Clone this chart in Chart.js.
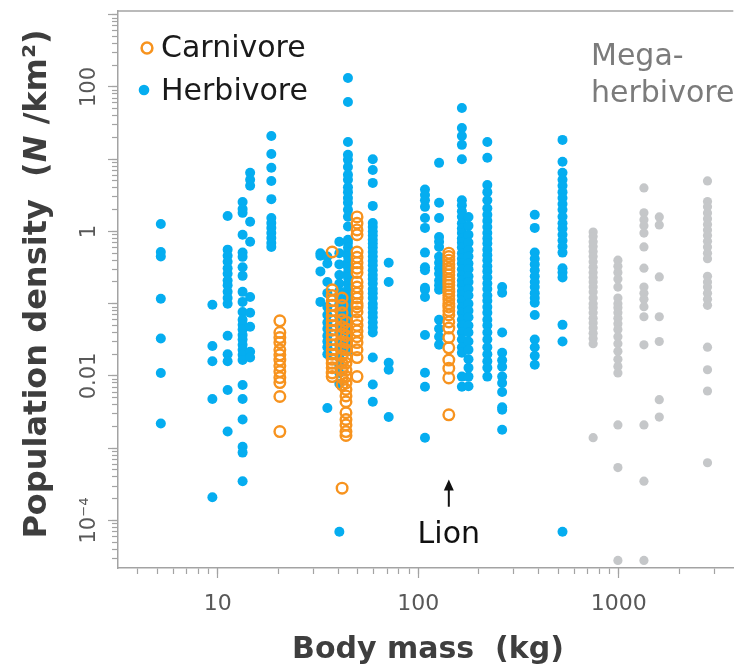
<!DOCTYPE html>
<html>
<head>
<meta charset="utf-8">
<script src="https://cdn.jsdelivr.net/npm/chart.js@4"></script>
<style>
  html, body { margin: 0; padding: 0; background: #fff; }
  canvas { display: block; }
</style>
</head>
<body>
<canvas id="chart" width="741" height="672"></canvas>
<script>
// Body mass (kg) of each species column, and the population densities (N/km2) recorded for it
const carnMass = [20.4, 37.2, 41.7, 43.6, 49.5, 142];
const carnDensity = [
  [0.058, 0.040, 0.034, 0.029, 0.023, 0.0196, 0.0166, 0.0138, 0.0115, 0.0095, 0.0081, 0.0052, 0.0017],
  [0.52, 0.156, 0.13, 0.11, 0.095, 0.08, 0.068, 0.058, 0.05, 0.043, 0.037, 0.032, 0.027, 0.023, 0.02, 0.017, 0.015, 0.013, 0.011, 0.0098],
  [0.12, 0.095, 0.075, 0.06, 0.048, 0.038, 0.03, 0.024, 0.019, 0.015, 0.012, 0.0095, 0.0075, 0.00028],
  [0.056, 0.045, 0.036, 0.029, 0.023, 0.018, 0.015, 0.012, 0.0098, 0.008, 0.0065, 0.0053, 0.0044, 0.0031, 0.0025, 0.0021, 0.0017, 0.0015],
  [1.59, 1.3, 1.05, 0.9, 0.52, 0.44, 0.37, 0.31, 0.27, 0.2, 0.17, 0.14, 0.12, 0.1, 0.09, 0.077, 0.06, 0.05, 0.042, 0.035, 0.029, 0.023, 0.018, 0.0098],
  [0.5, 0.45, 0.4, 0.35, 0.31, 0.28, 0.25, 0.22, 0.2, 0.18, 0.16, 0.145, 0.13, 0.115, 0.1, 0.09, 0.08, 0.07, 0.056, 0.046, 0.034, 0.0245, 0.0166, 0.0128, 0.0094, 0.0029]
];

const herbMass = [5.2, 9.4, 11.2, 13.3, 14.5, 18.5, 32.5, 35.2, 40.4, 44.6, 59.3, 71.2, 108, 127, 165, 178, 221, 262, 381, 524];
const herbDensity = [
  [1.27, 0.52, 0.45, 0.117, 0.033, 0.011, 0.0022],
  [0.097, 0.026, 0.016, 0.0048, 0.00021],
  [1.64, 0.56, 0.46, 0.38, 0.31, 0.26, 0.21, 0.18, 0.146, 0.12, 0.1, 0.036, 0.02, 0.016, 0.0064, 0.0017],
  [2.56, 2.05, 1.81, 0.9, 0.51, 0.445, 0.32, 0.243, 0.146, 0.106, 0.077, 0.06, 0.051, 0.044, 0.037, 0.032, 0.027, 0.023, 0.0196, 0.0166, 0.0075, 0.0048, 0.0025, 0.00105, 0.00087, 0.00035],
  [6.5, 5.2, 4.3, 1.36, 0.72, 0.124, 0.075, 0.048, 0.0216, 0.018],
  [21, 11.8, 7.6, 5.0, 2.8, 1.54, 1.31, 1.12, 0.95, 0.81, 0.69, 0.61],
  [0.5, 0.46, 0.28, 0.106],
  [0.45, 0.36, 0.2, 0.14, 0.09, 0.07, 0.055, 0.045, 0.036, 0.03, 0.025, 0.02, 0.0036],
  [0.72, 0.5, 0.35, 0.25, 0.19, 0.15, 0.12, 0.1, 0.08, 0.065, 0.05, 0.04, 0.03, 0.024, 0.018, 0.014, 0.011, 0.0078, 0.00007],
  [133, 62, 17.3, 11.5, 9.8, 7.8, 6.1, 5.2, 4.1, 3.5, 2.9, 2.5, 2.0, 1.6, 1.17, 0.77, 0.69, 0.6, 0.52, 0.45, 0.38, 0.32, 0.27, 0.23, 0.19, 0.16, 0.13, 0.11, 0.09, 0.075, 0.06, 0.05, 0.04, 0.033, 0.027, 0.022],
  [10, 7.1, 4.7, 2.26, 1.31, 1.15, 1.0, 0.88, 0.77, 0.68, 0.6, 0.52, 0.45, 0.39, 0.34, 0.29, 0.25, 0.22, 0.19, 0.16, 0.14, 0.12, 0.1, 0.088, 0.075, 0.065, 0.055, 0.047, 0.04, 0.018, 0.0076, 0.0044],
  [0.37, 0.2, 0.0152, 0.0122, 0.0027],
  [3.8, 3.2, 2.7, 2.19, 1.54, 1.12, 0.51, 0.32, 0.29, 0.166, 0.156, 0.124, 0.037, 0.0111, 0.0071, 0.0014],
  [8.9, 2.5, 1.54, 0.84, 0.72, 0.61, 0.445, 0.37, 0.31, 0.26, 0.21, 0.18, 0.156, 0.06, 0.045, 0.035, 0.027],
  [51, 27, 21, 15.8, 10, 2.7, 2.3, 1.9, 1.6, 1.3, 1.1, 0.95, 0.8, 0.7, 0.6, 0.5, 0.42, 0.36, 0.3, 0.25, 0.21, 0.18, 0.15, 0.13, 0.11, 0.09, 0.075, 0.06, 0.05, 0.04, 0.032, 0.025, 0.021, 0.0098, 0.0071],
  [1.59, 1.2, 0.9, 0.7, 0.55, 0.45, 0.36, 0.3, 0.24, 0.2, 0.16, 0.13, 0.1, 0.08, 0.065, 0.05, 0.04, 0.03, 0.023, 0.017, 0.013, 0.0098, 0.0072],
  [17.3, 10.5, 4.4, 3.5, 2.7, 2.1, 1.7, 1.4, 1.15, 0.95, 0.8, 0.68, 0.56, 0.47, 0.4, 0.33, 0.28, 0.23, 0.19, 0.16, 0.13, 0.11, 0.09, 0.075, 0.06, 0.05, 0.04, 0.032, 0.025, 0.02, 0.016, 0.013, 0.0098],
  [0.17, 0.142, 0.04, 0.021, 0.0165, 0.0134, 0.0098, 0.008, 0.006, 0.0037, 0.0034, 0.0018],
  [1.7, 1.12, 0.51, 0.42, 0.35, 0.29, 0.24, 0.2, 0.17, 0.14, 0.12, 0.103, 0.07, 0.032, 0.025, 0.019, 0.0143],
  [18.5, 9.2, 6.5, 5.2, 4.3, 3.5, 2.9, 2.4, 2.0, 1.6, 1.3, 1.1, 0.9, 0.75, 0.62, 0.51, 0.31, 0.27, 0.23, 0.051, 0.03, 0.00007]
];

const megaMass = [745, 990, 1335, 1592, 2770];
const megaDensity = [
  [0.98, 0.85, 0.72, 0.62, 0.53, 0.45, 0.38, 0.32, 0.27, 0.23, 0.2, 0.17, 0.145, 0.12, 0.1, 0.088, 0.075, 0.063, 0.054, 0.046, 0.039, 0.033, 0.028, 0.0014],
  [0.4, 0.33, 0.27, 0.22, 0.17, 0.12, 0.1, 0.088, 0.075, 0.063, 0.053, 0.044, 0.035, 0.028, 0.022, 0.017, 0.0135, 0.011, 0.0021, 0.00054, 0.000028],
  [4.0, 1.81, 1.45, 1.2, 0.95, 0.61, 0.31, 0.17, 0.14, 0.115, 0.091, 0.066, 0.027, 0.0021, 0.00035, 0.000028],
  [1.59, 1.23, 0.235, 0.066, 0.03, 0.0047, 0.0027],
  [5.0, 2.6, 2.2, 1.8, 1.5, 1.25, 1.05, 0.88, 0.73, 0.61, 0.5, 0.42, 0.24, 0.2, 0.17, 0.14, 0.115, 0.095, 0.025, 0.0122, 0.0062, 0.00063]
];

// axis ranges and labelled ticks
const xMin = 3.18, xMax = 3725;
const yMin = 2.2e-5, yMax = 1125;
const xLabelValues = [10, 100, 1000];
const xLabelText = ['10', '100', '1000'];
const yLabelValues = [1e-4, 0.01, 1, 100];
const yLabelText = ['10\u207B\u2074', '0.01', '1', '100'];

// lion marker: mass, arrow tip/tail and label baseline densities
const lionMass = 142;
const lionArrow = [3.7e-4, 1.55e-4];
const lionLabelAt = 4.9e-5;

const ORANGE = '#f7931e';
const BLUE = '#05adf0';
const GREY = '#c5c7c9';
const AXIS = '#a3a3a3';
const TICK_TEXT = '#585858';
const FONT = "'DejaVu Sans'";

function columnPoints(masses, densities) {
  const pts = [];
  masses.forEach((m, i) => densities[i].forEach(d => pts.push({ x: m, y: d })));
  return pts;
}

// 1..9 x 10^k ticks inside a range; decades only when majorOnly
function logTicks(lo, hi, majorOnly) {
  const out = [];
  for (let e = -6; e <= 4; e++) {
    for (let m = 1; m <= 9; m++) {
      if (majorOnly && m > 1) break;
      const v = m * Math.pow(10, e);
      if (v >= lo && v <= hi) out.push(v);
    }
  }
  return out;
}

function labelFor(values, texts) {
  return v => {
    const i = values.findIndex(t => Math.abs(Math.log10(v / t)) < 1e-6);
    return i < 0 ? '' : texts[i];
  };
}

function tickAxis(opts) {
  return Object.assign({
    type: 'logarithmic',
    grid: { drawOnChartArea: false, drawTicks: true, tickColor: AXIS, tickWidth: 1.2 },
    border: { display: false }
  }, opts);
}

const decorations = {
  id: 'decorations',
  afterDraw(chart) {
    const ctx = chart.ctx;
    const area = chart.chartArea;
    const xs = chart.scales.x, ys = chart.scales.y;
    ctx.save();

    // top edge of the frame
    ctx.strokeStyle = AXIS;
    ctx.lineWidth = 1.5;
    ctx.beginPath();
    ctx.moveTo(area.left, area.top);
    ctx.lineTo(area.right, area.top);
    ctx.stroke();

    // legend
    ctx.lineWidth = 2.5;
    ctx.strokeStyle = ORANGE;
    ctx.beginPath();
    ctx.arc(area.left + 29, area.top + 37, 5.4, 0, Math.PI * 2);
    ctx.stroke();
    ctx.fillStyle = BLUE;
    ctx.beginPath();
    ctx.arc(area.left + 26, area.top + 79, 5.3, 0, Math.PI * 2);
    ctx.fill();
    ctx.fillStyle = '#1a1a1a';
    ctx.font = '30px ' + FONT;
    ctx.textAlign = 'left';
    ctx.textBaseline = 'alphabetic';
    ctx.fillText('Carnivore', area.left + 43, area.top + 46);
    ctx.fillText('Herbivore', area.left + 43, area.top + 89);

    // mega-herbivore group label
    ctx.fillStyle = '#7b7b7b';
    ctx.fillText('Mega-', 591, area.top + 54);
    ctx.fillText('herbivore', 591, area.top + 91);

    // lion arrow and label
    const lx = xs.getPixelForValue(lionMass);
    const tipY = ys.getPixelForValue(lionArrow[0]);
    const tailY = ys.getPixelForValue(lionArrow[1]);
    ctx.strokeStyle = '#111';
    ctx.fillStyle = '#111';
    ctx.lineWidth = 2;
    ctx.beginPath();
    ctx.moveTo(lx, tailY);
    ctx.lineTo(lx, tipY + 8);
    ctx.stroke();
    ctx.beginPath();
    ctx.moveTo(lx, tipY);
    ctx.lineTo(lx - 5, tipY + 11);
    ctx.lineTo(lx + 5, tipY + 11);
    ctx.closePath();
    ctx.fill();
    ctx.textAlign = 'center';
    ctx.fillText('Lion', lx, ys.getPixelForValue(lionLabelAt));

    // axis titles
    ctx.fillStyle = '#3e3e3e';
    ctx.font = 'bold 30px ' + FONT;
    ctx.textAlign = 'center';
    ctx.fillText('Body mass  (kg)', 428, 658);

    const parts = [
      { t: 'Population density  (', f: 'bold 32px ' + FONT },
      { t: 'N', f: 'italic bold 32px ' + FONT },
      { t: ' /km\u00B2)', f: 'bold 32px ' + FONT }
    ];
    let total = 0;
    parts.forEach(p => { ctx.font = p.f; p.w = ctx.measureText(p.t).width; total += p.w; });
    ctx.translate(46, 284);
    ctx.rotate(-Math.PI / 2);
    ctx.textAlign = 'left';
    ctx.textBaseline = 'alphabetic';
    let cx = -total / 2;
    parts.forEach(p => { ctx.font = p.f; ctx.fillText(p.t, cx, 0); cx += p.w; });

    ctx.restore();
  }
};

new Chart(document.getElementById('chart'), {
  type: 'scatter',
  data: {
    datasets: [
      {
        label: 'Carnivore',
        data: columnPoints(carnMass, carnDensity),
        pointStyle: 'circle',
        pointRadius: 5.3,
        pointBorderWidth: 2.4,
        pointBorderColor: ORANGE,
        pointBackgroundColor: 'rgba(0,0,0,0)',
        order: 0
      },
      {
        label: 'Herbivore',
        data: columnPoints(herbMass, herbDensity),
        pointRadius: 5,
        pointBorderWidth: 0,
        pointBackgroundColor: BLUE,
        order: 1
      },
      {
        label: 'Mega-herbivore',
        data: columnPoints(megaMass, megaDensity),
        pointRadius: 4.6,
        pointBorderWidth: 0,
        pointBackgroundColor: GREY,
        order: 2
      }
    ]
  },
  options: {
    responsive: false,
    animation: false,
    events: [],
    layout: { padding: { top: 11, left: 0, right: 0, bottom: 0 } },
    plugins: { legend: { display: false }, tooltip: { enabled: false } },
    scales: {
      x: tickAxis({
        position: 'bottom',
        min: xMin, max: xMax,
        afterBuildTicks: s => { s.ticks = logTicks(xMin, xMax, false).map(v => ({ value: v })); },
        afterFit: s => { s.height = 104; s.paddingLeft = 0; s.paddingRight = 0; },
        grid: { drawOnChartArea: false, tickLength: 6, tickColor: AXIS, tickWidth: 1.2 },
        border: { display: true, color: AXIS, width: 1.5 },
        ticks: {
          autoSkip: false, minRotation: 0, maxRotation: 0, padding: 17,
          color: TICK_TEXT, font: { family: FONT, size: 22 },
          callback: labelFor(xLabelValues, xLabelText)
        }
      }),
      xMajor: tickAxis({
        position: 'bottom',
        weight: -1,
        min: xMin, max: xMax,
        afterBuildTicks: s => { s.ticks = logTicks(xMin, xMax, true).map(v => ({ value: v })); },
        afterFit: s => { s.height = 0; s.paddingLeft = 0; s.paddingRight = 0; },
        grid: { drawOnChartArea: false, tickLength: 10, tickColor: AXIS, tickWidth: 1.2 },
        ticks: { display: false, autoSkip: false }
      }),
      y: tickAxis({
        position: 'left',
        min: yMin, max: yMax,
        afterBuildTicks: s => { s.ticks = logTicks(yMin, yMax, false).map(v => ({ value: v })); },
        afterFit: s => { s.width = 118; s.paddingTop = 0; s.paddingBottom = 0; },
        grid: { drawOnChartArea: false, tickLength: 6, tickColor: AXIS, tickWidth: 1.2 },
        border: { display: true, color: AXIS, width: 1.5 },
        ticks: {
          autoSkip: false, minRotation: 90, maxRotation: 90, crossAlign: 'center', padding: -1,
          color: TICK_TEXT, font: { family: FONT, size: 21 },
          callback: labelFor(yLabelValues, yLabelText)
        }
      }),
      yMajor: tickAxis({
        position: 'left',
        weight: -1,
        min: yMin, max: yMax,
        afterBuildTicks: s => { s.ticks = logTicks(yMin, yMax, true).map(v => ({ value: v })); },
        afterFit: s => { s.width = 0; s.paddingTop = 0; s.paddingBottom = 0; },
        grid: { drawOnChartArea: false, tickLength: 10, tickColor: AXIS, tickWidth: 1.2 },
        ticks: { display: false, autoSkip: false }
      })
    }
  },
  plugins: [decorations]
});
</script>
</body>
</html>
